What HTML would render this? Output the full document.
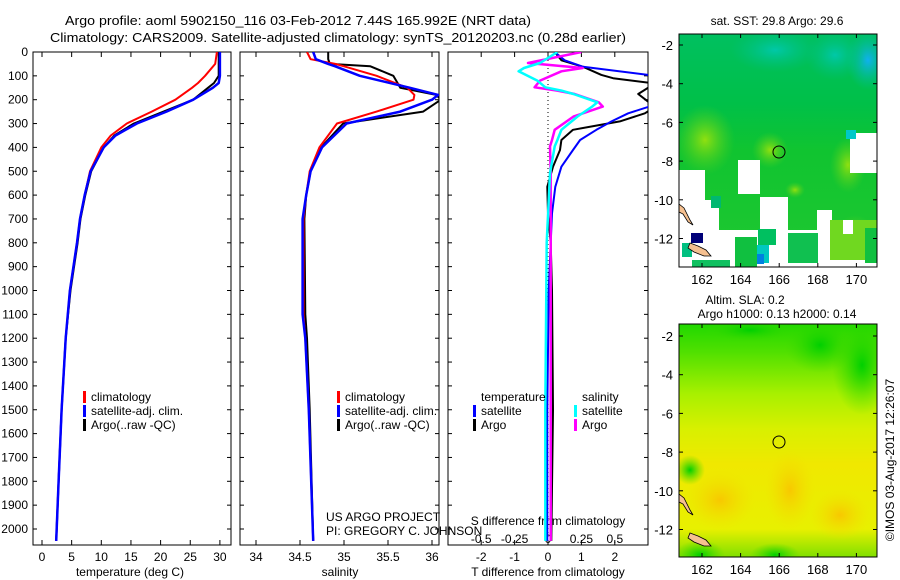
<!DOCTYPE html>
<html><head><meta charset="utf-8"><style>
html,body{margin:0;padding:0;background:#fff;}
svg{display:block;font-family:"Liberation Sans",sans-serif;}
text{font-size:12px;fill:#000;}
</style></head><body>
<svg id="chart" width="900" height="580" viewBox="0 0 900 580" xmlns="http://www.w3.org/2000/svg">
<defs>
<clipPath id="c1"><rect x="33" y="52" width="198" height="493"/></clipPath>
<clipPath id="c2"><rect x="240" y="52" width="199" height="493"/></clipPath>
<clipPath id="c3"><rect x="448" y="52" width="200" height="493"/></clipPath>
<clipPath id="cm1"><rect x="679" y="34" width="198" height="233"/></clipPath>
<clipPath id="cm2"><rect x="679" y="324" width="198" height="233"/></clipPath>
<linearGradient id="g1" x1="0" y1="0" x2="0" y2="1">
<stop offset="0" stop-color="#00c060"/><stop offset="0.3" stop-color="#00c048"/><stop offset="0.5" stop-color="#10c430"/><stop offset="1" stop-color="#20c830"/></linearGradient>
<radialGradient id="g1b"><stop offset="0" stop-color="#10b0f0"/><stop offset="1" stop-color="#00c0a0" stop-opacity="0"/></radialGradient>
<radialGradient id="g1t"><stop offset="0" stop-color="#00c8a8"/><stop offset="1" stop-color="#00c080" stop-opacity="0"/></radialGradient>
<radialGradient id="g1l"><stop offset="0" stop-color="#90e010"/><stop offset="1" stop-color="#50d020" stop-opacity="0"/></radialGradient>
<linearGradient id="g2" x1="0" y1="0" x2="0" y2="1">
<stop offset="0" stop-color="#20d800"/><stop offset="0.12" stop-color="#50e000"/><stop offset="0.3" stop-color="#a8f000"/><stop offset="0.45" stop-color="#d8f000"/><stop offset="0.6" stop-color="#f0e800"/><stop offset="0.88" stop-color="#e8f000"/><stop offset="1" stop-color="#80e000"/></linearGradient>
<radialGradient id="g2o"><stop offset="0" stop-color="#f8c800"/><stop offset="1" stop-color="#f0e000" stop-opacity="0"/></radialGradient>
<radialGradient id="g2g"><stop offset="0" stop-color="#00d000"/><stop offset="1" stop-color="#40d800" stop-opacity="0"/></radialGradient>
</defs>

<text x="65" y="25" textLength="466" lengthAdjust="spacingAndGlyphs" style="font-size:13px">Argo profile: aoml 5902150_116 03-Feb-2012 7.44S 165.992E (NRT data)</text>
<text x="50" y="42" textLength="576" lengthAdjust="spacingAndGlyphs" style="font-size:13px">Climatology: CARS2009. Satellite-adjusted climatology: synTS_20120203.nc (0.28d earlier)</text>

<g id="plots"></g>

<!-- maps -->
<g>
<g clip-path="url(#cm1)">
<rect x="679" y="34" width="198" height="233" fill="url(#g1)"/>
<ellipse cx="868" cy="60" rx="22" ry="30" fill="url(#g1b)"/>
<ellipse cx="775" cy="50" rx="45" ry="22" fill="url(#g1t)"/>
<ellipse cx="835" cy="55" rx="30" ry="25" fill="url(#g1t)"/>
<ellipse cx="705" cy="140" rx="30" ry="35" fill="url(#g1l)"/>
<ellipse cx="770" cy="150" rx="18" ry="18" fill="url(#g1l)"/>
<ellipse cx="848" cy="165" rx="18" ry="28" fill="url(#g1l)"/>
<ellipse cx="855" cy="240" rx="22" ry="25" fill="url(#g1l)"/>
<ellipse cx="795" cy="190" rx="10" ry="8" fill="url(#g1l)"/>
<!-- missing-data white areas -->
<rect x="850" y="133" width="27" height="40" fill="#fff"/>
<rect x="846" y="130" width="10" height="9" fill="#00c8c8"/>
<rect x="738" y="160" width="22" height="34" fill="#fff"/>
<rect x="679" y="170" width="26" height="30" fill="#fff"/>
<rect x="679" y="200" width="40" height="30" fill="#fff"/>
<rect x="711" y="196" width="10" height="12" fill="#00b870"/>
<rect x="760" y="197" width="28" height="33" fill="#fff"/>
<rect x="817" y="210" width="15" height="20" fill="#fff"/>
<rect x="679" y="230" width="198" height="37" fill="#fff"/>
<rect x="682" y="243" width="10" height="14" fill="#00c080"/>
<rect x="691" y="233" width="12" height="10" fill="#000078"/>
<rect x="692" y="260" width="38" height="7" fill="#10c060"/>
<rect x="735" y="237" width="22" height="30" fill="#10c040"/>
<rect x="758" y="229" width="18" height="16" fill="#00c060"/>
<rect x="757" y="245" width="12" height="18" fill="#00c8c0"/>
<rect x="757" y="254" width="7" height="10" fill="#0080e0"/>
<rect x="788" y="233" width="30" height="30" fill="#10c050"/>
<rect x="830" y="220" width="47" height="40" fill="#70d820"/>
<rect x="865" y="228" width="12" height="35" fill="#10c040"/>
<rect x="843" y="220" width="10" height="14" fill="#fff"/>
<polygon points="679,204 684,208 690,220 693,225 688,222 683,214 679,212" fill="#f5c090" stroke="#000" stroke-width="0.8"/>
<polygon points="690,243 698,246 706,250 711,256 704,256 694,252 688,248" fill="#f5c090" stroke="#000" stroke-width="0.8"/>
</g>
<rect x="679" y="34" width="198" height="233" fill="none" stroke="#000"/>
<circle cx="779" cy="152" r="6" fill="none" stroke="#000"/>
<text x="777" y="25" text-anchor="middle">sat. SST: 29.8 Argo: 29.6</text>
</g>

<g>
<g clip-path="url(#cm2)">
<rect x="679" y="324" width="198" height="233" fill="url(#g2)"/>
<ellipse cx="820" cy="345" rx="35" ry="28" fill="url(#g2g)"/>
<ellipse cx="862" cy="365" rx="30" ry="50" fill="url(#g2g)"/>
<ellipse cx="750" cy="330" rx="45" ry="12" fill="url(#g2g)"/>
<ellipse cx="720" cy="500" rx="35" ry="30" fill="url(#g2o)"/>
<ellipse cx="790" cy="490" rx="25" ry="40" fill="url(#g2o)"/>
<ellipse cx="840" cy="515" rx="30" ry="25" fill="url(#g2o)"/>
<ellipse cx="700" cy="555" rx="25" ry="15" fill="url(#g2g)"/>
<ellipse cx="775" cy="555" rx="25" ry="12" fill="url(#g2g)"/>
<ellipse cx="690" cy="470" rx="15" ry="15" fill="url(#g2g)"/>
<polygon points="679,494 684,498 690,510 693,515 688,512 683,504 679,502" fill="#f5c090" stroke="#000" stroke-width="0.8"/>
<polygon points="690,533 698,536 706,540 711,546 704,546 694,542 688,538" fill="#f5c090" stroke="#000" stroke-width="0.8"/>
</g>
<rect x="679" y="324" width="198" height="233" fill="none" stroke="#000"/>
<circle cx="779" cy="442" r="6" fill="none" stroke="#000"/>
<text x="745" y="304" text-anchor="middle">Altim. SLA: 0.2</text>
<text x="777" y="318" text-anchor="middle">Argo h1000: 0.13 h2000: 0.14</text>
</g>
<text transform="translate(894,460) rotate(-90)" text-anchor="middle">©IMOS 03-Aug-2017 12:26:07</text>
</svg>
<script>
// temperature profile data
const tDepth=[0,50,100,130,150,200,250,300,350,400,500,600,700,800,1000,1200,1500,1800,2050];
const tClim=[29.5,29.2,27.5,26.3,25.3,22.5,18.5,14.3,11.6,10.0,8.1,7.2,6.4,5.9,4.7,4.0,3.3,2.8,2.4];
const tSat=[30.0,30.0,30.0,29.8,28.8,25.5,21.0,16.0,12.4,10.4,8.2,7.2,6.4,5.9,4.7,4.0,3.3,2.8,2.4];
const tArgo=[29.8,29.8,29.8,29.0,28.0,25.5,20.5,15.5,12.2,10.4,8.3,7.3,6.5,6.0,4.8,4.0,3.3,2.8,2.4];
// salinity profile data
const sDepth=[0,30,50,60,100,150,180,200,250,300,400,500,600,700,1100,1200,1500,2050];
const sClim=[34.58,34.62,34.9,35.0,35.37,35.72,35.8,35.79,35.37,34.92,34.72,34.61,34.57,34.54,34.54,34.56,34.6,34.65];
const sSat=[34.65,34.68,34.82,34.9,35.18,35.75,36.07,36.0,35.64,35.03,34.75,34.62,34.57,34.53,34.53,34.56,34.6,34.65];
const sArgo=[34.82,34.82,34.84,35.3,35.56,35.64,36.05,36.1,35.9,34.99,34.74,34.62,34.57,34.55,34.56,34.58,34.61,34.65];
// differences from climatology
const dTDepth=[0,35,62,96,110,132,176,230,257,291,326,369,411,481,565,677,800,1000,1500,2050];
const dTArgo=[0.2,0.4,1.05,1.6,1.95,3.2,2.7,3.2,2.9,2.15,0.75,0.4,0.36,0.15,-0.02,0.0,0.08,0.12,0.15,0.1];
const dTSat=[0.2,0.5,1.05,3.0,3.2,3.2,3.2,3.0,2.4,1.9,1.45,0.96,0.75,0.4,0.22,0.12,0.08,0.02,-0.02,-0.02];
const dSDepth=[0,46,67,81,120,148,162,176,211,229,271,326,369,396,508,800,1500,2050];
const dSArgo=[0.25,-0.15,0.26,0.1,-0.06,-0.1,0.07,0.2,0.38,0.41,0.19,0.05,0.03,0.015,0.02,0.02,0.02,0.02];
const dSSat=[0.07,-0.06,-0.18,-0.22,-0.08,-0.02,0.1,0.19,0.37,0.33,0.22,0.1,0.07,0.05,0.015,-0.01,-0.02,-0.02];
// tick labels
const depthTicks=[0,100,200,300,400,500,600,700,800,900,1000,1100,1200,1300,1400,1500,1600,1700,1800,1900,2000];
const tTicks=[0,5,10,15,20,25,30];
const sTicks=[34,34.5,35,35.5,36];
const dTTicks=[-2,-1,0,1,2];
const dSTicks=[-0.5,-0.25,0,0.25,0.5];
const latTicks=[-2,-4,-6,-8,-10,-12];
const lonTicks=[162,164,166,168,170];

const NS='http://www.w3.org/2000/svg';
const root=document.getElementById('plots');
const svg=document.getElementById('chart');
const Y=d=>52+d*0.2385;
const XT=v=>42+v*5.93;
const XS=v=>256+(v-34)*88;
const XDT=v=>548+v*33.4;
const XDS=v=>548+v*133.6;
function el(tag,attrs,parent){const e=document.createElementNS(NS,tag);for(const k in attrs)e.setAttribute(k,attrs[k]);(parent||root).appendChild(e);return e;}
function txt(x,y,s,anchor,parent){const t=el('text',{x:x,y:y,'text-anchor':anchor||'middle'},parent);t.textContent=s;return t;}

const panels=[{x:33,w:198,name:'temperature'},{x:240,w:199,name:'salinity'},{x:448,w:200,name:'difference'}];
panels.forEach(p=>{
  const f=el('rect',{x:p.x,y:52,width:p.w,height:493,fill:'none',stroke:'#000'});
  
  
  depthTicks.forEach(d=>{
    el('line',{x1:p.x,x2:p.x+4,y1:Y(d),y2:Y(d),stroke:'#000'});
    el('line',{x1:p.x+p.w-4,x2:p.x+p.w,y1:Y(d),y2:Y(d),stroke:'#000'});
  });
});
depthTicks.forEach(d=>{
  const t=txt(28,Y(d)+4,String(d),'end');
  
  
});
function xticks(ticks,fx,ly){
  ticks.forEach(v=>{
    const x=fx(v);
    el('line',{x1:x,x2:x,y1:52,y2:57,stroke:'#000'});
    el('line',{x1:x,x2:x,y1:540,y2:545,stroke:'#000'});
    const t=txt(x,ly,String(v));
    
    
  });
}
xticks(tTicks,XT,561);
xticks(sTicks,XS,561);
xticks(dTTicks,XDT,561);
dSTicks.forEach(v=>{
  const t=txt(XDS(v),543,String(v));
  
  
});
[[130,'temperature (deg C)','temperature-axis-title'],[340,'salinity','salinity-axis-title'],[548,'T difference from climatology','t-diff-axis-title']].forEach(a=>{
  const t=txt(a[0],576,a[1]);
  
  
});
const st=txt(548,525,'S difference from climatology');



const z=el('line',{x1:548,x2:548,y1:52,y2:545,stroke:'#000','stroke-dasharray':'1,3'});



function series(depths,vals,fx,color,w,clip,name){
  const pts=depths.map((d,i)=>fx(vals[i]).toFixed(1)+','+Y(d).toFixed(1)).join(' ');
  const pl=el('polyline',{points:pts,fill:'none',stroke:color,'stroke-width':w,'clip-path':'url(#'+clip+')','stroke-linejoin':'round'});
  
  
}
series(tDepth,tArgo,XT,'#000',2,'c1','temp-argo-line');
series(tDepth,tClim,XT,'#f00',2,'c1','temp-climatology-line');
series(tDepth,tSat,XT,'#00f',2.5,'c1','temp-satellite-line');
series(sDepth,sArgo,XS,'#000',2,'c2','sal-argo-line');
series(sDepth,sClim,XS,'#f00',2,'c2','sal-climatology-line');
series(sDepth,sSat,XS,'#00f',2.5,'c2','sal-satellite-line');
series(dTDepth,dTArgo,XDT,'#000',2,'c3','t-diff-argo-line');
series(dTDepth,dTSat,XDT,'#00f',2,'c3','t-diff-satellite-line');
series(dSDepth,dSArgo,XDS,'#f0f',2.5,'c3','s-diff-argo-line');
series(dSDepth,dSSat,XDS,'#0ff',2.5,'c3','s-diff-satellite-line');

function legendItem(x,y,color,label){
  const g=el('g',{});
  
  
  el('rect',{x:x,y:y-10,width:3,height:12,fill:color},g);
  txt(x+8,y,label,'start',g);
}
[[83,'#f00','climatology',401],[83,'#00f','satellite-adj. clim.',415],[83,'#000','Argo(..raw -QC)',429]].forEach(a=>legendItem(a[0],a[3],a[1],a[2]));
[[337,'#f00','climatology',401],[337,'#00f','satellite-adj. clim.',415],[337,'#000','Argo(..raw -QC)',429]].forEach(a=>legendItem(a[0],a[3],a[1],a[2]));
const lt=txt(481,401,'temperature','start');


const ls=txt(582,401,'salinity','start');


legendItem(473,415,'#00f','satellite');
legendItem(473,429,'#000','Argo');
legendItem(574,415,'#0ff','satellite');
legendItem(574,429,'#f0f','Argo');
const c1=txt(326,521,'US ARGO PROJECT','start');


const c2=txt(326,535,'PI: GREGORY C. JOHNSON','start');



function mapAxes(top,latY0,lonLabelY){
  const LX=v=>702+(v-162)*19.3;
  const LY=v=>latY0+(-2-v)*19.35;
  latTicks.forEach(v=>{
    const y=LY(v);
    el('line',{x1:679,x2:683,y1:y,y2:y,stroke:'#000'},svg);
    el('line',{x1:873,x2:877,y1:y,y2:y,stroke:'#000'},svg);
    const t=txt(673,y+5,String(v),'end',svg);
    t.style.fontSize='13px';
    
    
  });
  lonTicks.forEach(v=>{
    const x=LX(v);
    el('line',{x1:x,x2:x,y1:top,y2:top+4,stroke:'#000'},svg);
    el('line',{x1:x,x2:x,y1:top+229,y2:top+233,stroke:'#000'},svg);
    const t=txt(x,lonLabelY,String(v),'middle',svg);
    t.style.fontSize='13px';
    
    
  });
}
mapAxes(34,45,284);
mapAxes(324,336,574);
</script>
</body></html>
